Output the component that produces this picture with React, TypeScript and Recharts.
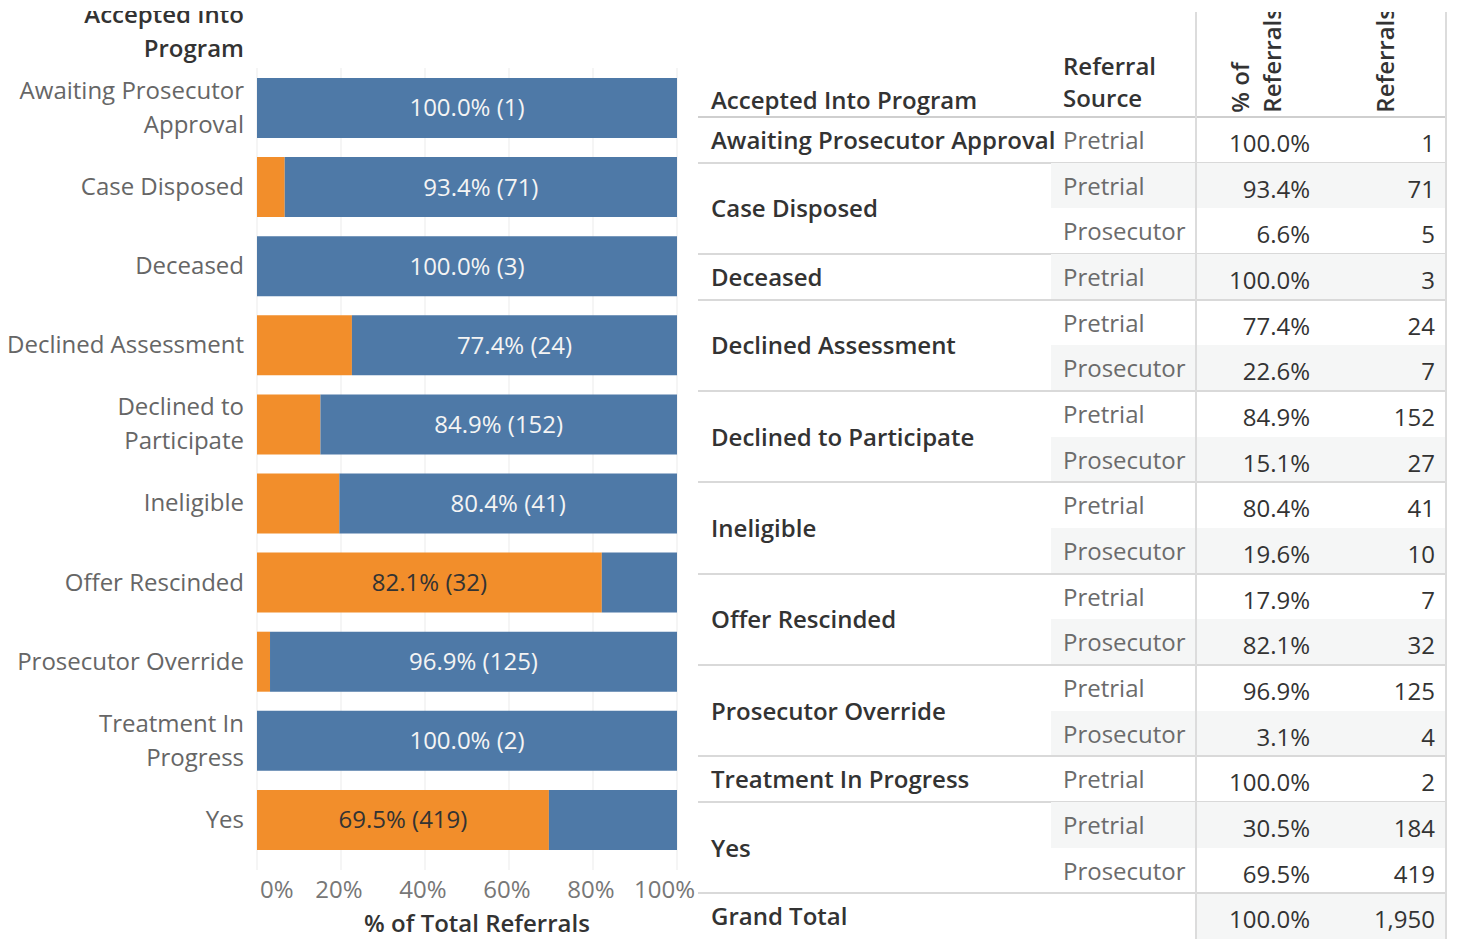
import React from "react";
import { Bar, BarChart, CartesianGrid, LabelList, XAxis, YAxis } from "recharts";

const FONT = "'Open Sans', Lato, sans-serif";
const FS = 24;

// categories on the bar chart and the table
const CATEGORIES = [
  "Awaiting Prosecutor Approval",
  "Case Disposed",
  "Deceased",
  "Declined Assessment",
  "Declined to Participate",
  "Ineligible",
  "Offer Rescinded",
  "Prosecutor Override",
  "Treatment In Progress",
  "Yes",
];

const PRETRIAL_PCT   = [100.0, 93.4, 100.0, 77.4, 84.9, 80.4, 17.9, 96.9, 100.0, 30.5];
const PROSECUTOR_PCT = [0, 6.6, 0, 22.6, 15.1, 19.6, 82.1, 3.1, 0, 69.5];
const PRETRIAL_COUNTS   = [1, 71, 3, 24, 152, 41, 7, 125, 2, 184];
const PROSECUTOR_COUNTS = [0, 5, 0, 7, 27, 10, 32, 4, 0, 419];

const X_TICKS = [0, 20, 40, 60, 80, 100];

const GRAND_TOTAL_PCT   = "100.0%";
const GRAND_TOTAL_COUNT = "1,950";

const BLUE   = "#4e79a7";
const ORANGE = "#f28e2b";

const chartData = CATEGORIES.map((name, i) => ({
  name,
  prosecutor: PROSECUTOR_PCT[i],
  pretrial: PRETRIAL_PCT[i],
}));

function wrapLabel(s: string, max = 20): string[] {
  const words = s.split(" ");
  const lines: string[] = [];
  let cur = "";
  for (const w of words) {
    const next = cur ? `${cur} ${w}` : w;
    if (next.length > max && cur) {
      lines.push(cur);
      cur = w;
    } else {
      cur = next;
    }
  }
  if (cur) lines.push(cur);
  return lines;
}

function CategoryTick(props: any) {
  const { x, y, payload } = props;
  const lines = wrapLabel(payload.value);
  const lh = 34;
  const start = y - ((lines.length - 1) * lh) / 2;
  return (
    <text textAnchor="end" fill="#666" fontSize={FS} fontFamily={FONT}>
      {lines.map((l, i) => (
        <tspan key={i} x={x - 5} y={start + i * lh} dy="0.35em">
          {l}
        </tspan>
      ))}
    </text>
  );
}

function PctTick(props: any) {
  const { x, y, payload } = props;
  const v = payload.value;
  const anchor = v === 0 ? "start" : v === 100 ? "end" : "middle";
  const dx = v === 0 ? 3 : v === 100 ? 18 : -2;
  return (
    <text x={x + dx} y={y} dy={20} textAnchor={anchor} fill="#777" fontSize={FS} fontFamily={FONT}>
      {v}%
    </text>
  );
}

// label goes on the larger of the two segments
function makeLabel(series: "pretrial" | "prosecutor") {
  return (props: any) => {
    const { x, y, width, height, value } = props;
    const i = CATEGORIES.indexOf(value);
    if (i < 0) return null;
    const mine  = series === "pretrial" ? PRETRIAL_PCT[i] : PROSECUTOR_PCT[i];
    const other = series === "pretrial" ? PROSECUTOR_PCT[i] : PRETRIAL_PCT[i];
    if (mine < other || !width) return null;
    const count = series === "pretrial" ? PRETRIAL_COUNTS[i] : PROSECUTOR_COUNTS[i];
    return (
      <text
        x={x + width / 2}
        y={y + height / 2}
        dy="0.35em"
        textAnchor="middle"
        fill={series === "pretrial" ? "#f4f4f4" : "#333333"}
        fontSize={FS}
        fontFamily={FONT}
      >
        {`${mine.toFixed(1)}% (${count})`}
      </text>
    );
  };
}

// ---- table ----
type SubRow = { source: string; pct: number; count: number };

const groups = CATEGORIES.map((name, i) => {
  const rows: SubRow[] = [];
  if (PRETRIAL_COUNTS[i] > 0) rows.push({ source: "Pretrial", pct: PRETRIAL_PCT[i], count: PRETRIAL_COUNTS[i] });
  if (PROSECUTOR_COUNTS[i] > 0) rows.push({ source: "Prosecutor", pct: PROSECUTOR_PCT[i], count: PROSECUTOR_COUNTS[i] });
  return { name, rows };
});

const T_TOP = 117;
const ROW_H = 45.67;
const C2_X = 353;   // start of source column (relative to table)
const V_LINE = 497; // vertical divider
const PCT_R = 612;
const CNT_R = 737;
const T_W = 749;

function Cell({ top, left, right, text, color, weight, align }: any) {
  const style: React.CSSProperties = {
    position: "absolute",
    top: top - 16,
    height: 32,
    lineHeight: "32px",
    fontSize: FS,
    fontFamily: FONT,
    color,
    fontWeight: weight ?? 400,
    whiteSpace: "nowrap",
  };
  if (align === "right") {
    style.right = T_W - right;
    style.textAlign = "right";
  } else {
    style.left = left;
  }
  return <div style={style}>{text}</div>;
}

function ReferralTable() {
  const els: React.ReactNode[] = [];
  let k = 0;
  groups.forEach((g, gi) => {
    const gTop = T_TOP + k * ROW_H;
    g.rows.forEach((r) => {
      const top = T_TOP + k * ROW_H;
      if (k % 2 === 1) {
        els.push(
          <div key={`bg${k}`} style={{ position: "absolute", left: C2_X, top, width: T_W - C2_X - 2, height: ROW_H, background: "#f5f6f6" }} />
        );
      }
      els.push(<Cell key={`s${k}`} top={top + 23} left={365} text={r.source} color="#6b6b6b" />);
      els.push(<Cell key={`p${k}`} top={top + 26} right={PCT_R} align="right" text={`${r.pct.toFixed(1)}%`} color="#333" />);
      els.push(<Cell key={`c${k}`} top={top + 26} right={CNT_R} align="right" text={r.count.toLocaleString("en-US")} color="#333" />);
      k++;
    });
    const gBot = T_TOP + k * ROW_H;
    els.push(<Cell key={`g${gi}`} top={(gTop + gBot) / 2} left={13} text={g.name} color="#333" weight={600} />);
    els.push(<div key={`l${gi}`} style={{ position: "absolute", left: 0, top: gBot - 1, width: T_W, height: 2, background: "#d9d9d9" }} />);
  });
  const gtTop = T_TOP + k * ROW_H;
  els.push(
    <div key="gtbg" style={{ position: "absolute", left: V_LINE + 2, top: gtTop + 1, width: T_W - V_LINE - 4, height: 60, background: "#f5f6f6" }} />
  );
  els.push(<Cell key="gt" top={gtTop + 23} left={13} text="Grand Total" color="#333" weight={600} />);
  els.push(<Cell key="gtp" top={gtTop + 26} right={PCT_R} align="right" text={GRAND_TOTAL_PCT} color="#333" />);
  els.push(<Cell key="gtc" top={gtTop + 26} right={CNT_R} align="right" text={GRAND_TOTAL_COUNT} color="#333" />);

  const rot: React.CSSProperties = {
    position: "absolute",
    writingMode: "vertical-rl",
    transform: "rotate(180deg)",
    fontSize: FS,
    fontFamily: FONT,
    fontWeight: 600,
    color: "#333",
    lineHeight: "32px",
    whiteSpace: "nowrap",
  };

  return (
    <div style={{ position: "absolute", left: 698, top: 0, width: T_W, height: 939, overflow: "hidden" }}>
      {/* header */}
      <Cell top={100} left={13} text="Accepted Into Program" color="#333" weight={600} />
      <Cell top={66} left={365} text="Referral" color="#333" weight={600} />
      <Cell top={98} left={365} text="Source" color="#333" weight={600} />
      <div style={{ position: "absolute", left: V_LINE + 2, top: 12, width: T_W - V_LINE - 4, height: 105, overflow: "hidden" }}>
        <div style={{ ...rot, bottom: 4, left: 27 }}>
          % of
          <br />
          Referrals
        </div>
        <div style={{ ...rot, bottom: 4, left: 172 }}>Referrals</div>
      </div>
      <div style={{ position: "absolute", left: 0, top: T_TOP - 1, width: T_W, height: 2, background: "#cfcfcf" }} />
      {els}
      <div style={{ position: "absolute", left: V_LINE, top: 12, width: 2, height: 939, background: "#dcdcdc" }} />
      <div style={{ position: "absolute", left: T_W - 2, top: 12, width: 2, height: 939, background: "#dcdcdc" }} />
    </div>
  );
}

export default function App() {
  return (
    <div style={{ position: "absolute", left: 0, top: 0, width: 1457, height: 939, background: "#fff", overflow: "hidden" }}>
      {/* measure title on the bar chart, clipped at the top like the source */}
      <div style={{ position: "absolute", left: 0, top: 11, width: 250, height: 60, overflow: "hidden" }}>
        <div
          style={{
            position: "absolute",
            right: 6,
            top: -14,
            textAlign: "right",
            fontFamily: FONT,
            fontSize: FS,
            fontWeight: 600,
            color: "#333",
            lineHeight: "34px",
            whiteSpace: "nowrap",
          }}
        >
          Accepted Into
          <br />
          Program
        </div>
      </div>
      <div style={{ position: "absolute", left: 0, top: 0 }}>
        <BarChart
          width={700}
          height={939}
          data={chartData}
          layout="vertical"
          margin={{ top: 68, right: 23, bottom: 0, left: 0 }}
        >
          <CartesianGrid horizontal={false} stroke="#ebebeb" />
          <XAxis
            type="number"
            domain={[0, 100]}
            ticks={X_TICKS}
            height={69}
            axisLine={false}
            tickLine={false}
            tick={<PctTick />}
            interval={0}
            label={({ viewBox }: any) => (
              <text
                x={viewBox.x + viewBox.width / 2 + 10}
                y={viewBox.y + 54}
                dy="0.35em"
                textAnchor="middle"
                fill="#333"
                fontSize={FS}
                fontWeight={600}
                fontFamily={FONT}
              >
                % of Total Referrals
              </text>
            )}
          />
          <YAxis
            type="category"
            dataKey="name"
            width={257}
            axisLine={false}
            tickLine={false}
            tick={<CategoryTick />}
            interval={0}
            padding={{ top: 0, bottom: 11 }}
          />
          <Bar dataKey="prosecutor" stackId="a" fill={ORANGE} barSize={60} isAnimationActive={false}>
            <LabelList dataKey="name" content={makeLabel("prosecutor")} />
          </Bar>
          <Bar dataKey="pretrial" stackId="a" fill={BLUE} barSize={60} isAnimationActive={false}>
            <LabelList dataKey="name" content={makeLabel("pretrial")} />
          </Bar>
        </BarChart>
      </div>
      <ReferralTable />
    </div>
  );
}
